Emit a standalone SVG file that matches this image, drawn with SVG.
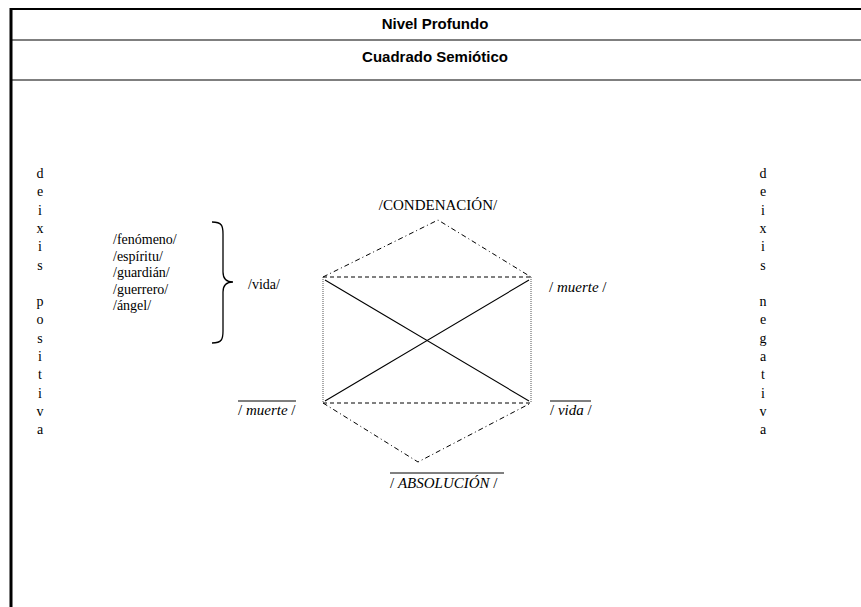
<svg xmlns="http://www.w3.org/2000/svg" width="861" height="607" viewBox="0 0 861 607">
<style>
.t{font-family:"Liberation Serif","Times New Roman",serif;font-size:14px;fill:#000}
.l{font-family:"Liberation Serif","Times New Roman",serif;font-size:15px;fill:#000}
.i{font-style:italic}
.h{font-family:"Liberation Sans",Arial,sans-serif;font-size:15px;font-weight:bold;fill:#000;text-anchor:middle}
.c{text-anchor:middle}
.frame{stroke:#000;fill:none}
.dash{stroke:#000;stroke-width:1;stroke-dasharray:4 3;fill:none}
.dd{stroke:#000;stroke-width:1;stroke-dasharray:5 3 1 3;fill:none}
.dot{stroke:#555;stroke-width:1;stroke-dasharray:1 1;fill:none}
.sol{stroke:#000;stroke-width:1.1;fill:none}
.ov{stroke:#000;stroke-width:1}
</style>
<rect width="861" height="607" fill="#fff"/>
<g id="frame">
<line class="frame" x1="10" y1="9" x2="861" y2="9" stroke-width="2"/>
<line class="frame" x1="11" y1="8" x2="11" y2="607" stroke-width="3"/>
<line class="frame" x1="10" y1="40" x2="861" y2="40" stroke-width="1.2"/>
<line class="frame" x1="10" y1="80" x2="861" y2="80" stroke-width="1.2"/>
</g>
<g id="title1"><text class="h" x="435" y="29">Nivel Profundo</text></g>
<g id="title2"><text class="h" x="435" y="62">Cuadrado Semiótico</text></g>
<g id="connectors">
<polyline class="dd" points="323,277 438,220 531,277"/>
<polyline class="dd" points="323,403 418,462 531,403"/>
<line class="dash" x1="323" y1="277" x2="531" y2="277"/>
<line class="dash" x1="323" y1="403" x2="531" y2="403"/>
<line class="dot" x1="323" y1="277" x2="323" y2="403"/>
<line class="dot" x1="531" y1="277" x2="531" y2="403"/>
<line class="sol" x1="325" y1="280" x2="529" y2="401"/>
<line class="sol" x1="325" y1="401" x2="529" y2="280"/>
</g>
<g id="deixis-positiva">
<text class="t c" x="40">
<tspan x="40" y="178">d</tspan><tspan x="40" y="196.3">e</tspan><tspan x="40" y="214.6">i</tspan><tspan x="40" y="232.9">x</tspan><tspan x="40" y="251.2">i</tspan><tspan x="40" y="269.5">s</tspan><tspan x="40" y="306.1">p</tspan><tspan x="40" y="324.4">o</tspan><tspan x="40" y="342.7">s</tspan><tspan x="40" y="361">i</tspan><tspan x="40" y="379.3">t</tspan><tspan x="40" y="397.6">i</tspan><tspan x="40" y="415.9">v</tspan><tspan x="40" y="434.2">a</tspan>
</text>
</g>
<g id="deixis-negativa">
<text class="t c" x="763">
<tspan x="763" y="178">d</tspan><tspan x="763" y="196.3">e</tspan><tspan x="763" y="214.6">i</tspan><tspan x="763" y="232.9">x</tspan><tspan x="763" y="251.2">i</tspan><tspan x="763" y="269.5">s</tspan><tspan x="763" y="306.1">n</tspan><tspan x="763" y="324.4">e</tspan><tspan x="763" y="342.7">g</tspan><tspan x="763" y="361">a</tspan><tspan x="763" y="379.3">t</tspan><tspan x="763" y="397.6">i</tspan><tspan x="763" y="415.9">v</tspan><tspan x="763" y="434.2">a</tspan>
</text>
</g>
<g id="lista">
<text class="t" x="113"><tspan x="113" y="244">/fenómeno/</tspan><tspan x="113" y="260.5">/espíritu/</tspan><tspan x="113" y="277">/guardián/</tspan><tspan x="113" y="293.5">/guerrero/</tspan><tspan x="113" y="310">/ángel/</tspan></text>
<path d="M212,222 C222,222 223,226 223,234 L223,272 C223,279 226,282 233,282 C226,282 223,285 223,292 L223,331 C223,339 222,343 212,343" fill="none" stroke="#000" stroke-width="1.3"/>
</g>
<g id="vida"><text class="t" x="248" y="289">/vida/</text></g>
<g id="condenacion"><text class="l c" x="438" y="210" font-size="16">/CONDENACIÓN/</text></g>
<g id="muerte"><text class="l" x="549" y="292">/ <tspan class="i">muerte</tspan> /</text></g>
<g id="no-muerte"><line class="ov" x1="238" y1="401" x2="296" y2="401"/><text class="l" x="238" y="415">/ <tspan class="i">muerte</tspan> /</text></g>
<g id="no-vida"><line class="ov" x1="550" y1="401" x2="591" y2="401"/><text class="l" x="550" y="415">/ <tspan class="i">vida</tspan> /</text></g>
<g id="absolucion"><line class="ov" x1="390" y1="473" x2="504" y2="473"/><text class="l" x="390" y="488" font-size="16">/ <tspan class="i">ABSOLUCIÓN</tspan> /</text></g>
</svg>
